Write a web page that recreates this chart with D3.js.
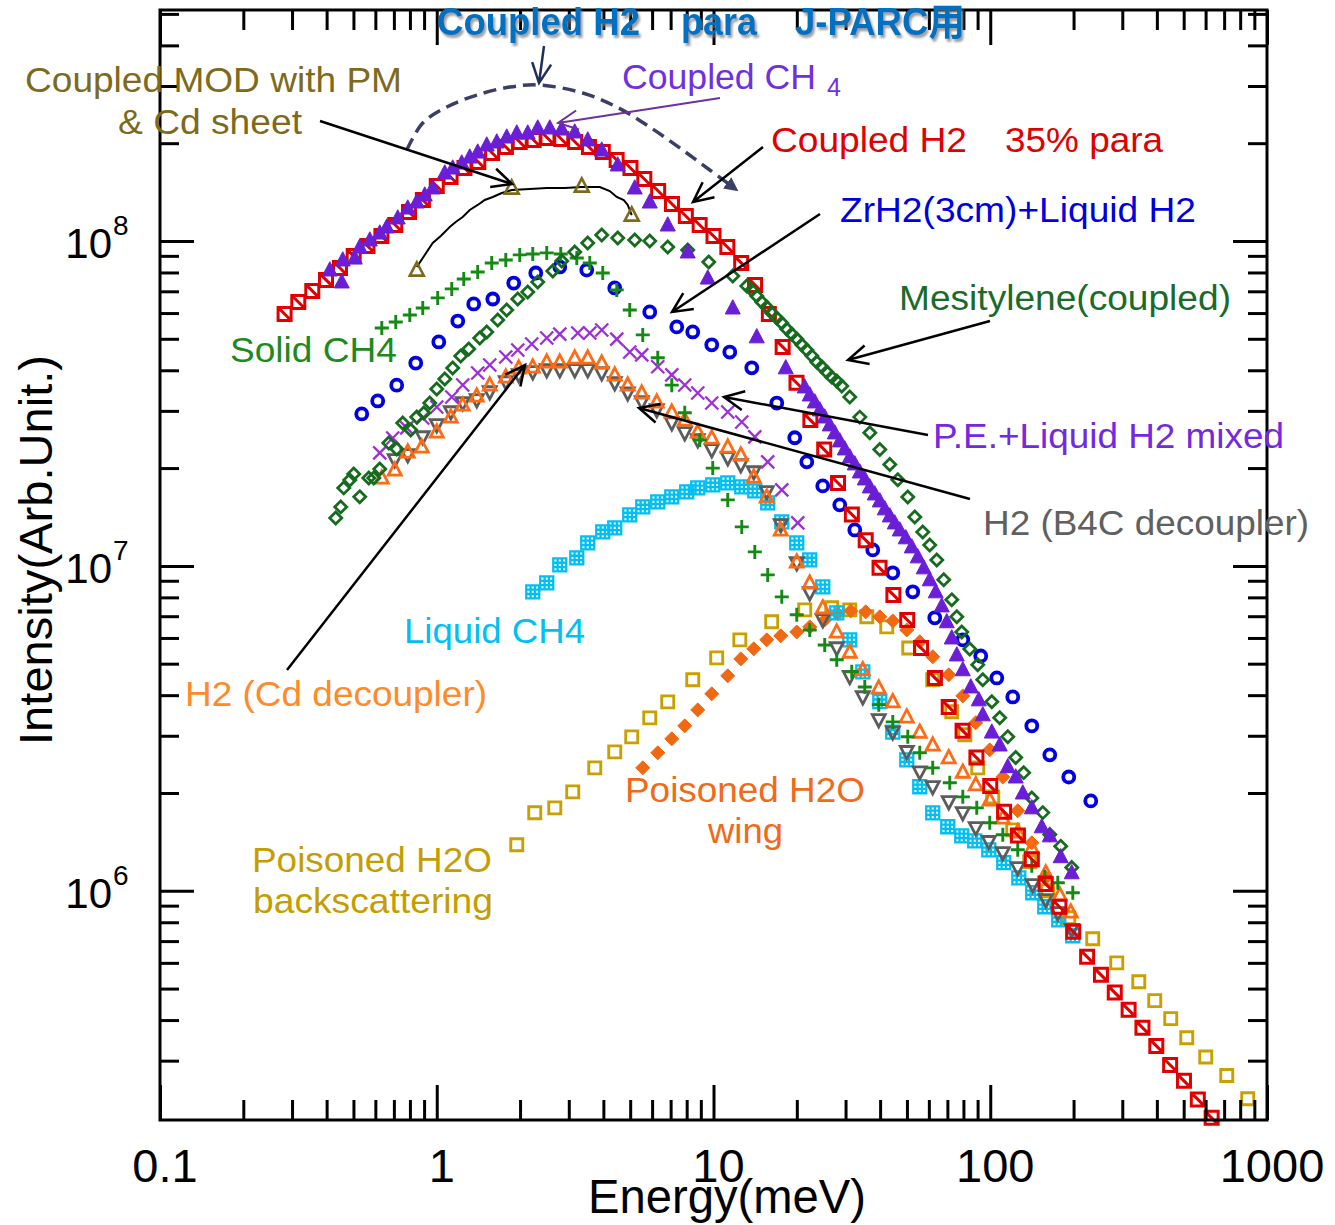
<!DOCTYPE html>
<html><head><meta charset="utf-8">
<script src="https://cdn.jsdelivr.net/npm/d3@7"></script>
<style>
body{margin:0;background:#fff}
svg{display:block}
text{font-family:"Liberation Sans",Arial,"Noto Sans CJK JP",sans-serif}
</style></head>
<body><svg id="c" width="1335" height="1225"></svg>
<script>
// ---------------- DATA (Energy meV, Intensity arb.) ----------------
const xMajorTicks = [0.1, 1, 10, 100, 1000];
const xTickLabels = ["0.1", "1", "10", "100", "1000"];
const yMajorTicks = [1e6, 1e7, 1e8];
const yTickExponents = ["6", "7", "8"];

const coupledH2E = [0.282,0.316,0.355,0.398,0.447,0.501,0.562,0.631,0.708,0.794,0.891,1.0,1.122,1.259,1.413,1.585,1.778,1.995,2.239,2.512,2.818,3.162,3.548,3.981,4.467,5.012,5.623,6.31,7.079,7.943,8.913,10,11.22,12.59,14.13,15.85,17.78,19.95,22.39,25.12,28.18,31.62,35.48,39.81,44.67,50.12,56.23,63.1,70.79,79.43,89.13,100,112.2,125.9,141.3,158.5,177.8,199.5,223.9,251.2,281.8,316.2,354.8,398.1,446.7,501.2,562.3,631];
const coupledH2I = [5.96e7,6.49e7,7.02e7,7.59e7,8.26e7,8.99e7,9.65e7,1.036e8,1.12e8,1.228e8,1.337e8,1.476e8,1.574e8,1.677e8,1.75e8,1.865e8,1.946e8,2.017e8,2.046e8,2.075e8,2.06e8,2.017e8,1.946e8,1.878e8,1.775e8,1.677e8,1.551e8,1.425e8,1.30e8,1.194e8,1.12e8,1.036e8,9.58e7,8.56e7,7.32e7,5.96e7,4.72e7,3.66e7,2.81e7,2.28e7,1.80e7,1.44e7,1.20e7,9.86e6,8.14e6,6.82e6,5.59e6,4.52e6,3.68e6,3.11e6,2.57e6,2.10e6,1.75e6,1.48e6,1.25e6,1.05e6,8.93e5,7.48e5,6.26e5,5.51e5,4.86e5,4.30e5,3.79e5,3.33e5,2.91e5,2.60e5,2.28e5,2.0e5];

const coupledCH4E = [0.4107,0.4536,0.4574,0.5055,0.5269,0.5729,0.6223,0.6597,0.7229,0.7856,0.8466,0.905,0.967,1.069,1.142,1.231,1.316,1.406,1.516,1.648,1.79,1.946,2.132,2.317,2.561,2.829,3.152,3.512,3.946,4.508,5.193,5.884,6.834,8.07,9.533,11.74,14.33,18.24,21.36,22.27,23.22,24.21,25.23,26.31,27.43,28.59,29.81,31.08,32.4,33.78,35.21,36.71,38.26,39.89,41.58,43.35,45.18,47.1,49.51,52.04,54.7,57.5,60.44,63.55,66.8,69.64,72.6,75.7,79.58,85.05,90.9,93.97,101.3,108.2,115.7,123.6,131.1,141.3,153.5,164.1,179.7,197.0];
const coupledCH4I = [8.14e7,7.48e7,8.74e7,8.86e7,9.58e7,1.007e8,1.058e8,1.104e8,1.177e8,1.263e8,1.318e8,1.385e8,1.456e8,1.619e8,1.677e8,1.738e8,1.813e8,1.878e8,1.974e8,2.017e8,2.089e8,2.149e8,2.149e8,2.227e8,2.227e8,2.211e8,2.165e8,2.046e8,1.905e8,1.714e8,1.456e8,1.318e8,1.12e8,9.25e7,7.69e7,6.22e7,5.07e7,4.07e7,3.555e7,3.359e7,3.196e7,3.02e7,2.873e7,2.716e7,2.566e7,2.425e7,2.291e7,2.165e7,2.06e7,1.946e7,1.852e7,1.75e7,1.665e7,1.585e7,1.498e7,1.425e7,1.356e7,1.29e7,1.22e7,1.144e7,1.066e7,9.86e6,9.06e6,8.32e6,7.53e6,6.73e6,6.0e6,5.32e6,4.79e6,4.24e6,3.87e6,3.48e6,3.08e6,2.81e6,2.41e6,2.24e6,2.0e6,1.80e6,1.574e6,1.476e6,1.273e6,1.136e6];

const jparcParaE = [0.779,0.890,1.087,1.395,1.835,2.356,3.37,4.47,5.88,7.74,9.69,11.74];
const jparcParaI = [1.905e8,2.307e8,2.584e8,2.813e8,2.977e8,3.02e8,2.854e8,2.584e8,2.243e8,1.905e8,1.654e8,1.466e8];

const coupledModE = [0.847,0.905,0.967,1.034,1.114,1.171,1.241,1.316,1.406,1.491,1.594,1.718,1.866,2.168,2.497,2.901,3.342,3.882,4.219,4.471,4.739,4.899,5.065];
const coupledModI = [8.318e7,9.056e7,9.86e7,1.036e8,1.104e8,1.144e8,1.185e8,1.246e8,1.291e8,1.337e8,1.366e8,1.405e8,1.435e8,1.445e8,1.456e8,1.456e8,1.466e8,1.466e8,1.425e8,1.366e8,1.337e8,1.291e8,1.202e8];
const coupledModMarkE = [0.847,1.866,3.342,5.065];
const coupledModMarkI = [8.142e7,1.456e8,1.476e8,1.202e8];

const solidCH4E = [0.633,0.711,0.799,0.890,1.008,1.133,1.252,1.406,1.580,1.776,1.995,2.223,2.497,2.806,3.206,3.572,3.979,4.471,4.982,5.551,6.289,7.067,7.873,8.918,9.938,11.26,12.65,14.1,15.7,17.65,19.99,22.27,25.23,27.88,31.59,35.21,39.55,44.44,50.35,55.63,61.97,71.41,79.58,89.39,99.6,111.0,125.7,141.3,157.4,175.4,198.7];
const solidCH4I = [5.40e7,5.63e7,5.92e7,6.22e7,6.68e7,7.12e7,7.64e7,8.03e7,8.56e7,8.74e7,9.06e7,9.12e7,9.19e7,9.12e7,8.86e7,8.56e7,7.97e7,7.07e7,6.13e7,5.14e7,4.37e7,3.60e7,2.96e7,2.44e7,2.00e7,1.596e7,1.318e7,1.104e7,9.38e6,8.03e6,7.07e6,6.35e6,5.71e6,5.14e6,4.72e6,4.24e6,3.74e6,3.31e6,2.98e6,2.66e6,2.39e6,2.15e6,1.946e6,1.80e6,1.619e6,1.487e6,1.337e6,1.194e6,1.104e6,1.058e6,9.86e5];

const zrh2E = [0.5358,0.6119,0.7167,0.8396,1.017,1.191,1.36,1.594,1.897,2.279,2.783,3.483,4.397,5.884,7.366,8.414,9.856,11.45,13.75,16.93,19.66,21.73,24.82,28.59,32.4,37.63,44.44,52.48,63.03,79.58,92.4,105.6,120.6,141.3,164.1,192.2,230.8];
const zrh2I = [2.935e7,3.218e7,3.60e7,4.21e7,4.89e7,5.67e7,6.40e7,6.63e7,7.42e7,7.97e7,8.32e7,8.14e7,7.17e7,6.05e7,5.44e7,5.25e7,4.79e7,4.55e7,4.07e7,3.17e7,2.48e7,2.09e7,1.763e7,1.541e7,1.29e7,1.12e7,9.52e6,8.32e6,6.92e6,5.92e6,5.28e6,4.52e6,3.95e6,3.22e6,2.62e6,2.24e6,1.891e6];

const mesityleneE = [0.4315,0.4498,0.4613,0.485,0.5012,0.5269,0.5682,0.5923,0.6223,0.6709,0.7167,0.7535,0.8055,0.8466,0.8977,0.9434,1.0,1.069,1.142,1.221,1.305,1.43,1.516,1.661,1.79,1.962,2.132,2.317,2.626,2.829,3.152,3.512,3.946,4.508,5.193,5.884,6.834,8.07,9.614,11.74,13.19,13.75,14.33,14.94,15.57,16.23,16.93,17.65,18.4,19.17,19.99,20.84,21.73,22.65,23.61,24.61,25.66,26.75,27.88,29.07,31.07,33.78,36.71,39.89,43.35,46.33,50.35,53.37,57.03,60.44,64.09,67.92,72.6,75.7,78.89,84.33,90.12,93.97,101.3,108.2,115.7,123.6,132.1,141.3,154.8,164.1,179.7,197.0];
const mesityleneI = [1.405e7,1.519e7,1.738e7,1.839e7,1.919e7,1.631e7,1.865e7,1.865e7,1.988e7,2.39e7,2.291e7,2.754e7,2.621e7,2.873e7,2.956e7,3.173e7,3.504e7,3.762e7,4.067e7,4.428e7,4.653e7,5.03e7,5.248e7,5.713e7,6.132e7,6.63e7,6.967e7,7.476e7,8.085e7,8.681e7,9.25e7,9.86e7,1.043e8,1.021e8,1.007e8,1.0e8,9.58e7,9.38e7,8.62e7,7.8e7,7.27e7,7.07e7,6.77e7,6.49e7,6.26e7,6.0e7,5.79e7,5.59e7,5.36e7,5.17e7,4.99e7,4.79e7,4.62e7,4.43e7,4.24e7,4.10e7,3.95e7,3.81e7,3.71e7,3.58e7,3.31e7,2.87e7,2.57e7,2.28e7,2.05e7,1.84e7,1.63e7,1.415e7,1.272e7,1.16e7,1.043e7,9.06e6,7.86e6,6.97e6,6.26e6,5.55e6,4.96e6,4.46e6,3.82e6,3.41e6,2.98e6,2.57e6,2.31e6,1.93e6,1.74e6,1.49e6,1.37e6,1.18e6];

const peMixedE = [0.6223,0.6934,0.7792,0.890,1.0,1.133,1.241,1.406,1.554,1.776,1.962,2.204,2.497,2.783,3.233,3.572,3.946,4.471,4.982,5.505,6.289,7.067,7.873,8.771,9.856,11.26,12.65,14.1,15.7,17.65,20.16];
const peMixedI = [2.227e7,2.476e7,2.659e7,2.853e7,3.084e7,3.311e7,3.604e7,3.925e7,4.154e7,4.396e7,4.62e7,4.82e7,5.03e7,5.17e7,5.21e7,5.21e7,5.32e7,4.99e7,4.555e7,4.46e7,4.10e7,3.87e7,3.604e7,3.405e7,3.173e7,2.977e7,2.773e7,2.494e7,2.089e7,1.714e7,1.356e7];

const h2CdE = [0.633,0.705,0.7856,0.8826,1.0,1.124,1.241,1.395,1.554,1.776,1.978,2.223,2.497,2.783,3.152,3.512,3.946,4.397,4.899,5.505,6.237,7.067,7.873,8.771,9.856,11.26,12.55,13.98,15.57,17.5,19.99,22.27,24.82,27.88,31.07,34.63,39.55,44.44,49.93,55.63,61.97,70.8,79.58,88.65,99.6,111.0,125.7,141.3,158.7,178.3,195.4];
const h2CdI = [1.865e7,1.974e7,2.243e7,2.323e7,2.585e7,2.873e7,3.128e7,3.335e7,3.604e7,3.815e7,4.067e7,4.096e7,4.243e7,4.243e7,4.365e7,4.365e7,4.213e7,3.87e7,3.604e7,3.405e7,3.196e7,2.977e7,2.813e7,2.585e7,2.476e7,2.323e7,2.196e7,1.878e7,1.631e7,1.29e7,1.029e7,8.86e6,7.43e6,6.26e6,5.43e6,4.79e6,4.21e6,3.82e6,3.43e6,3.08e6,2.81e6,2.57e6,2.32e6,2.12e6,1.905e6,1.677e6,1.518e6,1.356e6,1.136e6,9.72e5,8.61e5];

const h2B4cE = [0.705,0.7856,0.890,1.0,1.124,1.241,1.395,1.554,1.776,1.978,2.223,2.497,2.783,3.152,3.512,3.946,4.397,4.899,5.505,6.237,7.067,7.873,8.771,9.856,11.26,12.55,13.98,15.57,17.5,19.99,22.27,24.82,27.88,31.07,34.63,39.55,44.44,49.93,55.63,61.97,70.8,79.58,88.65,98.8,111.0,125.7,142.4,158.7,175.4,197.0];
const h2B4cI = [2.12e7,2.196e7,2.494e7,2.716e7,2.977e7,3.173e7,3.242e7,3.43e7,3.683e7,3.87e7,3.954e7,4.01e7,4.01e7,4.01e7,4.01e7,3.925e7,3.656e7,3.405e7,3.196e7,3.02e7,2.754e7,2.566e7,2.442e7,2.275e7,2.15e7,2.046e7,1.946e7,1.69e7,1.337e7,1.021e7,8.26e6,6.82e6,5.59e6,4.56e6,3.95e6,3.36e6,3.08e6,2.68e6,2.32e6,2.09e6,1.878e6,1.738e6,1.563e6,1.416e6,1.309e6,1.177e6,1.043e6,9.38e5,8.55e5,7.59e5];

const liquidCH4E = [2.223,2.497,2.783,3.206,3.512,3.979,4.397,4.982,5.551,6.289,7.067,8.003,8.771,9.938,11.26,12.65,14.1,15.7,17.65,19.99,22.27,24.82,27.88,31.07,34.63,39.89,44.44,49.93,55.63,61.97,70.23,78.89,87.9,98.8,111.9,126.8,142.4,157.4,176.8,198.7];
const liquidCH4I = [8.32e6,8.86e6,1.007e7,1.058e7,1.177e7,1.272e7,1.309e7,1.435e7,1.519e7,1.574e7,1.631e7,1.69e7,1.738e7,1.775e7,1.80e7,1.75e7,1.701e7,1.563e7,1.366e7,1.177e7,1.043e7,8.62e6,7.17e6,5.92e6,4.72e6,3.82e6,3.08e6,2.53e6,2.09e6,1.738e6,1.574e6,1.476e6,1.425e6,1.337e6,1.22e6,1.096e6,9.86e5,8.93e5,8.14e5,7.27e5];

const h2oBackE = [1.946,2.26,2.670,3.1,3.724,4.397,5.065,5.884,6.834,8.414,10.27,12.45,16.23,21.36,26.75,31.07,35.8,42.27,50.77,61.97,72.6,80.9,90.12,102.1,120.6,138.9,161.4,192.2,234.6,286.5,344.1,393.0,448.9,512.9,600.7,715.4,852];
const h2oBackI = [1.385e6,1.738e6,1.80e6,2.016e6,2.39e6,2.677e6,2.977e6,3.406e6,3.815e6,4.46e6,5.21e6,5.92e6,6.73e6,7.32e6,7.43e6,7.32e6,6.97e6,6.49e6,5.59e6,4.46e6,3.555e6,3.02e6,2.39e6,1.946e6,1.54e6,1.228e6,1.0e6,8.26e5,7.12e5,6.0e5,5.25e5,4.59e5,4.04e5,3.53e5,3.08e5,2.70e5,2.29e5];

const h2oWingE = [5.551,6.289,7.067,7.873,8.771,9.856,11.26,12.55,13.98,15.57,17.5,19.99,22.27,25.23,28.12,31.33,35.49,39.89,44.44,49.93,55.63,61.97,70.8,79.58,88.65,99.6,111.0,125.7,141.3,158.7];
const h2oWingI = [2.39e6,2.658e6,2.935e6,3.218e6,3.604e6,4.037e6,4.587e6,5.173e6,5.554e6,5.92e6,6.09e6,6.26e6,6.49e6,6.82e6,7.12e6,7.27e6,7.22e6,6.97e6,6.77e6,6.35e6,5.84e6,5.25e6,4.62e6,3.98e6,3.29e6,2.715e6,2.24e6,1.763e6,1.405e6,1.096e6];

// ---------------- CHART ----------------
const svg = d3.select("#c");
const X = d3.scaleLog().domain([0.1, 1000]).range([160, 1267]);
const Y = d3.scaleLog().domain([1.97e5, 5.14e8]).range([1120, 10]);

const defs = svg.append("defs");
const f = defs.append("filter").attr("id","shadow").attr("x","-5%").attr("y","-20%").attr("width","115%").attr("height","160%");
f.append("feDropShadow").attr("dx",2).attr("dy",3).attr("stdDeviation",1.2).attr("flood-color","#777").attr("flood-opacity",0.7);

function shapePath(type, s){
  const h = s/2;
  switch(type){
    case "sq": return `M${-h},${-h}H${h}V${h}H${-h}Z`;
    case "sqDiag": return `M${-h},${-h}H${h}V${h}H${-h}ZM${-h},${-h}L${h},${h}`;
    case "sqGrid": { const t=h/3; return `M${-h},${-h}H${h}V${h}H${-h}ZM${-t},${-h}V${h}M${t},${-h}V${h}M${-h},${-t}H${h}M${-h},${t}H${h}`; }
    case "triUp": return `M0,${-h*1.1}L${h},${h*0.8}L${-h},${h*0.8}Z`;
    case "triDown": return `M0,${h*1.1}L${h},${-h*0.8}L${-h},${-h*0.8}Z`;
    case "diamond": return `M0,${-h}L${h},0L0,${h}L${-h},0Z`;
    case "plus": return `M${-h},0H${h}M0,${-h}V${h}`;
    case "cross": return `M${-h},${-h}L${h},${h}M${-h},${h}L${h},${-h}`;
    case "circle": return `M${h},0A${h},${h} 0 1,1 ${-h},0A${h},${h} 0 1,1 ${h},0Z`;
  }
}
function drawSeries(E, I, type, size, color, filled, sw){
  const data = d3.zip(E, I);
  svg.append("g").selectAll("path").data(data).join("path")
    .attr("transform", d => `translate(${X(d[0])},${Y(d[1])})`)
    .attr("d", shapePath(type, size))
    .attr("fill", filled ? color : "none")
    .attr("stroke", color)
    .attr("stroke-width", filled ? 1 : sw)
    .attr("stroke-linejoin","miter");
}

// markers (bottom to top)
drawSeries(h2oBackE, h2oBackI, "sq", 12, "#c8a000", false, 2.9);
drawSeries(h2oWingE, h2oWingI, "diamond", 14, "#f06812", true, 0);
drawSeries(liquidCH4E, liquidCH4I, "sqGrid", 13, "#00bff2", false, 2.3);
drawSeries(h2B4cE, h2B4cI, "triDown", 13, "#5c5c5c", false, 2.8);
drawSeries(h2CdE, h2CdI, "triUp", 13, "#ff6a14", false, 2.8);
drawSeries(peMixedE, peMixedI, "cross", 13, "#9b30d8", false, 2.3);
drawSeries(zrh2E, zrh2I, "circle", 11, "#0000e0", false, 3.8);
drawSeries(solidCH4E, solidCH4I, "plus", 14, "#148a14", false, 2.9);
drawSeries(coupledH2E, coupledH2I, "sqDiag", 13, "#e00000", false, 3);
drawSeries(mesityleneE, mesityleneI, "diamond", 12, "#166b1e", false, 2.8);
drawSeries(coupledCH4E, coupledCH4I, "triUp", 15, "#6a1ed6", true, 0);

// coupled MOD with PM line
svg.append("path").datum(d3.zip(coupledModE, coupledModI))
  .attr("d", d3.line().x(d=>X(d[0])).y(d=>Y(d[1])))
  .attr("fill","none").attr("stroke","#000").attr("stroke-width",2);
drawSeries(coupledModMarkE, coupledModMarkI, "triUp", 14, "#7d6a1c", false, 2.6);

// J-PARC para dashed curve
defs.append("marker").attr("id","dashEnd").attr("viewBox","0 0 10 10").attr("refX",5).attr("refY",5)
  .attr("markerWidth",4).attr("markerHeight",4).attr("orient","auto")
  .append("path").attr("d","M0,0L10,5L0,10Z").attr("fill","#3b3f66");
svg.append("path").datum(d3.zip(jparcParaE, jparcParaI))
  .attr("d", d3.line().x(d=>X(d[0])).y(d=>Y(d[1])).curve(d3.curveCatmullRom))
  .attr("fill","none").attr("stroke","#3b3f66").attr("stroke-width",3.5)
  .attr("stroke-dasharray","13,7").attr("marker-end","url(#dashEnd)");

// ---------------- AXES ----------------
const xMinorTicks = []; [0.1,1,10,100].forEach(d => { for (let m=2;m<=9;m++) xMinorTicks.push(+(d*m).toPrecision(3)); });
const yMinorTicks = [];
[1e5,1e6,1e7,1e8].forEach(d => { for (let m=2;m<=9;m++){ const v=d*m; if (v>=3e5 && v<=5e8) yMinorTicks.push(v);} });

function tickAxis(gen, tr){
  const g = svg.append("g").attr("transform", tr).call(gen);
  g.select(".domain").remove();
  g.selectAll(".tick text").remove();
  g.selectAll(".tick line").attr("stroke","#000").attr("stroke-width",3);
}
tickAxis(d3.axisBottom(X).tickValues(xMajorTicks).tickSize(-35), "translate(0,1120)");
tickAxis(d3.axisBottom(X).tickValues(xMinorTicks).tickSize(-20), "translate(0,1120)");
tickAxis(d3.axisTop(X).tickValues(xMajorTicks).tickSize(-35), "translate(0,10)");
tickAxis(d3.axisTop(X).tickValues(xMinorTicks).tickSize(-20), "translate(0,10)");
tickAxis(d3.axisLeft(Y).tickValues(yMajorTicks).tickSize(-34), "translate(160,0)");
tickAxis(d3.axisLeft(Y).tickValues(yMinorTicks).tickSize(-19), "translate(160,0)");
tickAxis(d3.axisRight(Y).tickValues(yMajorTicks).tickSize(-34), "translate(1267,0)");
tickAxis(d3.axisRight(Y).tickValues(yMinorTicks).tickSize(-19), "translate(1267,0)");

svg.append("rect").attr("x",160).attr("y",10).attr("width",1107).attr("height",1110)
  .attr("fill","none").attr("stroke","#000").attr("stroke-width",3);

// tick labels
svg.append("g").selectAll("text").data(d3.zip(xMajorTicks, xTickLabels)).join("text")
  .attr("x", d => X(d[0]) + 5).attr("y", 1182).attr("text-anchor","middle")
  .attr("font-size", 47).attr("fill","#000").text(d => d[1]);
const yl = svg.append("g").selectAll("g").data(d3.zip(yMajorTicks, yTickExponents)).join("g");
yl.append("text").attr("x",112).attr("y", d => Y(d[0]) + 17).attr("text-anchor","end")
  .attr("font-size",42).text("10");
yl.append("text").attr("x",113).attr("y", d => Y(d[0]) - 6).attr("font-size",28).text(d => d[1]);

// axis titles
svg.append("text").attr("x",727).attr("y",1213).attr("text-anchor","middle")
  .attr("font-size",48).attr("textLength",278).attr("lengthAdjust","spacingAndGlyphs").text("Energy(meV)");
svg.append("text").attr("transform","translate(52,550) rotate(-90)").attr("text-anchor","middle")
  .attr("font-size",46).attr("textLength",390).attr("lengthAdjust","spacingAndGlyphs").text("Intensity(Arb.Unit.)");

// ---------------- ANNOTATIONS ----------------
const labels = [
  {t:"Coupled MOD with PM", x:25, y:92, w:377, c:"#7d6a1c"},
  {t:"& Cd sheet", x:118, y:134, w:184, c:"#7d6a1c"},
  {t:"Coupled CH", x:622, y:89, w:194, c:"#7030e0"},
  {t:"Coupled H2", x:771, y:152, w:196, c:"#e00000"},
  {t:"35% para", x:1005, y:152, w:158, c:"#e00000"},
  {t:"ZrH2(3cm)+Liquid H2", x:840, y:222, w:356, c:"#0000dd"},
  {t:"Mesitylene(coupled)", x:899, y:310, w:332, c:"#1a6b2a"},
  {t:"Solid CH4", x:230, y:362, w:167, c:"#1e8a1e"},
  {t:"P.E.+Liquid H2 mixed", x:933, y:448, w:351, c:"#7428e0"},
  {t:"H2 (B4C decoupler)", x:983, y:535, w:326, c:"#606060"},
  {t:"Liquid CH4", x:404, y:643, w:181, c:"#00bff2"},
  {t:"H2 (Cd decoupler)", x:185, y:706, w:302, c:"#ff8a2a"},
  {t:"Poisoned H2O", x:625, y:802, w:240, c:"#f06a1a"},
  {t:"wing", x:708, y:843, w:75, c:"#f06a1a"},
  {t:"Poisoned H2O", x:252, y:872, w:240, c:"#c49e00"},
  {t:"backscattering", x:253, y:913, w:240, c:"#c49e00"}
];
svg.append("g").selectAll("text").data(labels).join("text")
  .attr("x", d=>d.x).attr("y", d=>d.y).attr("fill", d=>d.c)
  .attr("font-size", 35).attr("textLength", d=>d.w).attr("lengthAdjust","spacingAndGlyphs")
  .text(d=>d.t);
svg.append("text").attr("x",827).attr("y",96).attr("fill","#7030e0").attr("font-size",25).text("4");

// title
const titleParts = [
  {t:"Coupled H2", x:437, w:203},
  {t:"para", x:681, w:76},
  {t:"J-PARC用", x:795, w:170}
];
svg.append("g").attr("filter","url(#shadow)").selectAll("text").data(titleParts).join("text")
  .attr("x", d=>d.x).attr("y", 35).attr("fill","#0070c0").attr("font-weight","bold")
  .attr("font-size", 38).attr("textLength", d=>d.w).attr("lengthAdjust","spacingAndGlyphs")
  .text(d=>d.t);

// arrows [x1,y1, tipX, tipY, color, width]
const arrows = [
  [544,46, 539,83, "#1f2f5a", 2.5],
  [320,121, 512,184, "#000", 2.5],
  [720,98, 558,123, "#7030a0", 2],
  [763,147, 693,202, "#000", 2.5],
  [820,214, 672,312, "#000", 2.5],
  [990,321, 848,360, "#000", 2.5],
  [928,435, 724,397, "#000", 2.5],
  [970,499, 639,408, "#000", 2.5],
  [287,670, 525,365, "#000", 2.5]
];
const ag = svg.append("g");
arrows.forEach(([x1,y1,x2,y2,c,w]) => {
  const a = Math.atan2(y2-y1, x2-x1), L = 22, sp = 0.45;
  const p = `M${x1},${y1}L${x2},${y2}M${x2 - L*Math.cos(a-sp)},${y2 - L*Math.sin(a-sp)}L${x2},${y2}L${x2 - L*Math.cos(a+sp)},${y2 - L*Math.sin(a+sp)}`;
  ag.append("path").attr("d", p).attr("fill","none").attr("stroke", c).attr("stroke-width", w);
});
</script>
</body></html>
